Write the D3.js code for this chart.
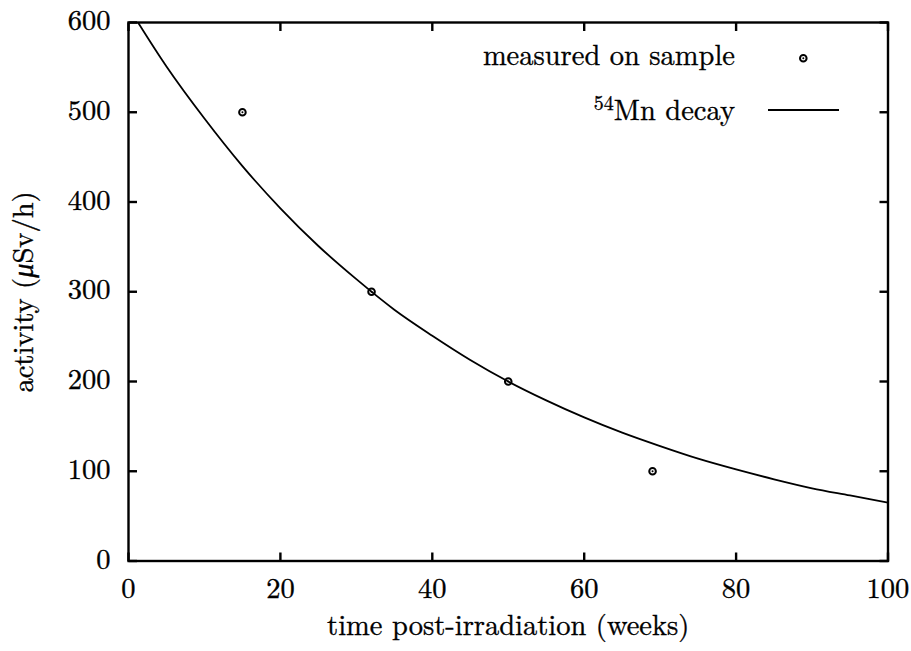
<!DOCTYPE html>
<html><head><meta charset="utf-8">
<script src="https://cdn.jsdelivr.net/npm/d3@7"></script>
<style>
html,body{margin:0;padding:0;background:#fff;}
text{font-family:"Latin Modern Roman","Liberation Serif",serif;fill:#000;stroke:#000;stroke-width:0.35px;}
</style></head>
<body><svg id="c" width="911" height="651"></svg>
<script>
// measured points
const measWeeks = [15, 32, 50, 69];
const measActivity = [500, 300, 200, 100];
// decay curve
const curveWeeks = [0,5,10,15,20,25,30,35,40,45,50,55,60,65,70,75,80,85,90,95,100];
const curveActivity = [617,551,493,440,393,351,314,280,251,224,200,179,160,143,128,114,102,91,81,73,65];
const xTicks = [0,20,40,60,80,100];
const yTicks = [0,100,200,300,400,500,600];
const xLabel = "time post-irradiation (weeks)";
const legendMeas = "measured on sample";

const svg = d3.select("#c");
const L=128.5, R=888, T=22.5, B=561;
const x = d3.scaleLinear().domain([0,100]).range([L,R]);
const y = d3.scaleLinear().domain([0,600]).range([B,T]);
const FS = 28.5;

svg.append("clipPath").attr("id","clip").append("rect")
  .attr("x",L).attr("y",T).attr("width",R-L).attr("height",B-T);

// ticks (inward, mirrored)
const tk = 8.5;
const axisG = svg.append("g").attr("stroke","#000").attr("stroke-width",2.4);
xTicks.forEach(v=>{
  axisG.append("line").attr("x1",x(v)).attr("x2",x(v)).attr("y1",B).attr("y2",B-tk);
  axisG.append("line").attr("x1",x(v)).attr("x2",x(v)).attr("y1",T).attr("y2",T+tk);
});
yTicks.forEach(v=>{
  axisG.append("line").attr("x1",L).attr("x2",L+tk).attr("y1",y(v)).attr("y2",y(v));
  axisG.append("line").attr("x1",R).attr("x2",R-tk).attr("y1",y(v)).attr("y2",y(v));
});
// tick labels
svg.append("g").selectAll("text").data(xTicks).join("text")
  .attr("x",d=>x(d)).attr("y",598).attr("text-anchor","middle")
  .attr("font-size",FS).text(d=>d);
svg.append("g").selectAll("text").data(yTicks).join("text")
  .attr("x",110.5).attr("y",d=>y(d)+7.5).attr("text-anchor","end")
  .attr("font-size",FS).text(d=>d);

// curve
const line = d3.line().x((d,i)=>x(curveWeeks[i])).y(d=>y(d)).curve(d3.curveMonotoneX);
svg.append("path").attr("d",line(curveActivity)).attr("fill","none")
  .attr("stroke","#000").attr("stroke-width",1.8).attr("clip-path","url(#clip)");

// points
function marker(g,cx,cy){
  g.append("circle").attr("cx",cx).attr("cy",cy).attr("r",3.3)
    .attr("fill","none").attr("stroke","#000").attr("stroke-width",2);
  g.append("circle").attr("cx",cx).attr("cy",cy).attr("r",1).attr("fill","#000");
}
const pg = svg.append("g");
measWeeks.forEach((w,i)=>marker(pg,x(w),y(measActivity[i])));

// frame
svg.append("rect").attr("x",L).attr("y",T).attr("width",R-L).attr("height",B-T)
  .attr("fill","none").attr("stroke","#000").attr("stroke-width",2.4);

// axis titles
svg.append("text").attr("x",(L+R)/2).attr("y",635).attr("text-anchor","middle")
  .attr("font-size",FS).text(xLabel);
const yl = svg.append("text").attr("transform","translate(33,292) rotate(-90)")
  .attr("text-anchor","middle").attr("font-size",FS);
yl.append("tspan").text("activity (");
yl.append("tspan").attr("font-style","italic").text("μ");
yl.append("tspan").text("Sv/h)");

// legend
svg.append("text").attr("x",735).attr("y",65).attr("text-anchor","end")
  .attr("font-size",FS).text(legendMeas);
marker(svg,803.3,58.3);
const lt = svg.append("text").attr("x",735).attr("y",120).attr("text-anchor","end").attr("font-size",FS);
lt.append("tspan").attr("font-size",20).attr("dy",-10).text("54");
lt.append("tspan").attr("dy",10).text("Mn decay");
svg.append("line").attr("x1",768).attr("x2",839).attr("y1",110).attr("y2",110)
  .attr("stroke","#000").attr("stroke-width",1.8);
</script></body></html>
